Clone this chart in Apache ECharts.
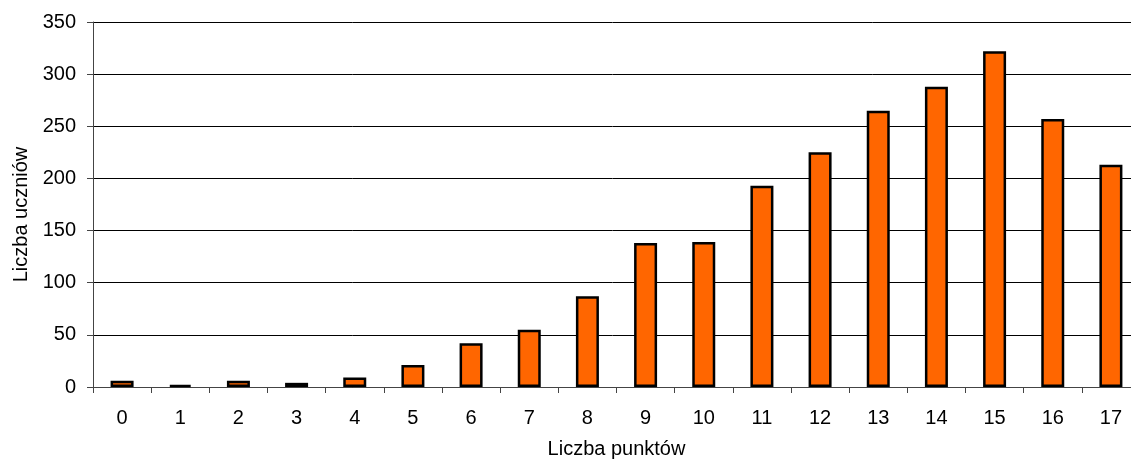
<!DOCTYPE html>
<html>
<head>
<meta charset="utf-8">
<script src="https://cdn.jsdelivr.net/npm/echarts@6/dist/echarts.min.js"></script>
<style>
html,body{margin:0;padding:0;background:#fff;overflow:hidden;}
#chart{width:1131px;height:464px;}
</style>
</head>
<body>
<div id="chart"></div>
<script>
const categories = ['0','1','2','3','4','5','6','7','8','9','10','11','12','13','14','15','16','17'];
const students = [6, 2, 6, 4, 9, 21, 42, 55, 87, 138, 139, 193, 225, 265, 288, 322, 257, 213];
const xAxisName = 'Liczba punktów';
const yAxisName = 'Liczba uczniów';

const chart = echarts.init(document.getElementById('chart'), null, {renderer: 'canvas'});
const font = 'Liberation Sans, Arial, sans-serif';
chart.setOption({
  animation: false,
  backgroundColor: '#fff',
  grid: {left: 93, width: 1047, top: 22, bottom: 77, containLabel: false, outerBoundsMode: 'none'},
  xAxis: {
    type: 'category',
    data: categories,
    name: xAxisName,
    nameLocation: 'middle',
    nameGap: 52,
    nameTextStyle: {fontFamily: font, fontSize: 20, color: '#000'},
    axisLine: {lineStyle: {color: '#444', width: 1}},
    axisTick: {show: true, length: 6, lineStyle: {color: '#444'}},
    axisLabel: {fontFamily: font, fontSize: 20, color: '#000', margin: 21, interval: 0},
    splitLine: {show: false}
  },
  yAxis: {
    type: 'value',
    min: 0, max: 350, interval: 50,
    name: yAxisName,
    nameLocation: 'middle',
    nameGap: 62,
    nameTextStyle: {fontFamily: font, fontSize: 20, color: '#000', padding: [0, 20, 0, 0]},
    axisLine: {show: true, lineStyle: {color: '#444', width: 1}},
    axisTick: {show: true, length: 6, lineStyle: {color: '#444'}},
    axisLabel: {fontFamily: font, fontSize: 20, color: '#000', margin: 17},
    splitLine: {show: true, lineStyle: {color: '#000', width: 1}}
  },
  series: [{
    type: 'bar',
    data: students,
    barWidth: 23,
    itemStyle: {color: '#FF6600', borderColor: '#000', borderWidth: 2.5}
  }]
});
</script>
</body>
</html>
